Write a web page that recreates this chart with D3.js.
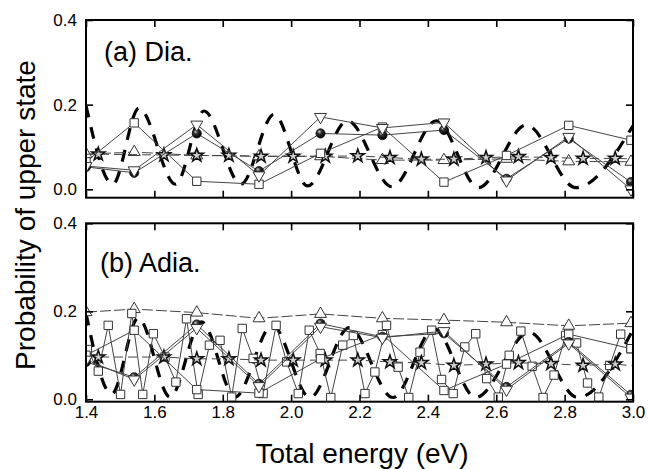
<!DOCTYPE html>
<html>
<head>
<meta charset="utf-8">
<script src="https://cdn.jsdelivr.net/npm/d3@7"></script>
<style>
  body { margin: 0; background: #fff; }
  svg { display: block; }
  text { font-family: "Liberation Sans", Arial, Helvetica, sans-serif; fill: #000; }
</style>
</head>
<body>
<svg id="chart" width="648" height="469"></svg>
<script>
// ---- energies (eV) ----
const coarseEnergy = [1.4, 1.541, 1.724, 1.906, 2.086, 2.267, 2.447, 2.63, 2.812, 2.994];
const starEnergy = [1.436, 1.628, 1.724, 1.818, 1.912, 2.006, 2.100, 2.195, 2.289, 2.381,
                    2.476, 2.570, 2.665, 2.760, 2.854, 2.948];
const fineEnergy = [1.404, 1.436, 1.465, 1.501, 1.534, 1.566, 1.597, 1.631, 1.663, 1.694,
                    1.728, 1.761, 1.792, 1.826, 1.857, 1.889, 1.918, 1.956, 1.987, 2.021,
                    2.053, 2.085, 2.116, 2.151, 2.182, 2.216, 2.245, 2.279, 2.313, 2.344,
                    2.377, 2.411, 2.440, 2.474, 2.508, 2.540, 2.572, 2.606, 2.638, 2.672,
                    2.705, 2.737, 2.769, 2.803, 2.835, 2.867, 2.900, 2.932, 2.964, 2.994];

// ---- (a) diabatic ----
const diaSquare = [0.065, 0.157, 0.019, 0.012, 0.085, 0.147, 0.017, 0.080, 0.151, 0.116];
const diaCircle = [0.053, 0.039, 0.132, 0.043, 0.132, 0.128, 0.140, 0.025, 0.120, 0.017];
const diaDown   = [0.055, 0.045, 0.153, 0.033, 0.171, 0.145, 0.158, 0.021, 0.124, 0.000];
const diaUp     = [0.083, 0.088, 0.080, 0.078, 0.078, 0.069, 0.069, 0.072, 0.066, 0.065];
const diaStar   = [0.083, 0.081, 0.080, 0.080, 0.078, 0.078, 0.078, 0.079, 0.075, 0.071,
                   0.071, 0.075, 0.077, 0.075, 0.073, 0.073];
const diaCurveE = [1.400, 1.478, 1.555, 1.662, 1.745, 1.853, 1.950, 2.048, 2.165, 2.295,
                   2.425, 2.548, 2.688, 2.833, 3.000];
const diaCurveP = [0.198, 0.012, 0.192, 0.012, 0.185, 0.012, 0.177, 0.008, 0.162, 0.006,
                   0.162, 0.004, 0.152, 0.004, 0.150];

// ---- (b) adiabatic ----
const adiaSquare = [0.100, 0.157, 0.022, 0.014, 0.092, 0.147, 0.020, 0.080, 0.148, 0.115];
const adiaFine = [0.113, 0.064, 0.168, 0.011, 0.195, 0.011, 0.149, 0.096, 0.039, 0.183,
                  0.011, 0.123, 0.134, 0.005, 0.161, 0.093, 0.013, 0.168, 0.085, 0.013,
                  0.157, 0.104, 0.004, 0.123, 0.145, 0.013, 0.062, 0.168, 0.073, 0.004,
                  0.107, 0.157, 0.045, 0.013, 0.119, 0.149, 0.047, 0.005, 0.100, 0.155,
                  0.075, 0.004, 0.055, 0.145, 0.128, 0.037, 0.005, 0.077, 0.148, 0.115];
const adiaCircle = [0.085, 0.050, 0.170, 0.035, 0.172, 0.142, 0.150, 0.028, 0.130, 0.010];
const adiaDown   = [0.090, 0.045, 0.162, 0.030, 0.165, 0.140, 0.155, 0.022, 0.127, 0.004];
const adiaUp     = [0.198, 0.205, 0.197, 0.184, 0.194, 0.184, 0.180, 0.175, 0.167, 0.173];
const adiaStar   = [0.096, 0.096, 0.092, 0.092, 0.089, 0.089, 0.089, 0.089, 0.085, 0.083,
                    0.077, 0.080, 0.083, 0.081, 0.077, 0.080];
const adiaCurveE = [1.400, 1.475, 1.553, 1.646, 1.738, 1.836, 1.945, 2.055, 2.170, 2.298,
                    2.418, 2.540, 2.697, 2.838, 3.000];
const adiaCurveP = [0.195, 0.012, 0.185, 0.005, 0.176, 0.005, 0.168, 0.004, 0.163, 0.004,
                    0.160, 0.004, 0.152, 0.004, 0.158];

const xTicks = [1.4, 1.6, 1.8, 2.0, 2.2, 2.4, 2.6, 2.8, 3.0];
const yTicks = [0.0, 0.2, 0.4];

const svg = d3.select("#chart");
const x = d3.scaleLinear().domain([1.4, 3.0]).range([86, 633]);
const fmt = d3.format(".1f");

// shaded ball used for the circle markers
const defs = svg.append("defs");
const grad = defs.append("radialGradient").attr("id", "ball")
  .attr("cx", "38%").attr("cy", "32%").attr("r", "65%");
grad.append("stop").attr("offset", "0%").attr("stop-color", "#d8d8d8");
grad.append("stop").attr("offset", "35%").attr("stop-color", "#333");
grad.append("stop").attr("offset", "100%").attr("stop-color", "#000");

const panels = [
  {
    id: "dia", top: 20, bottom: 197.7, domain: [-0.0198, 0.4], label: "(a) Dia.",
    labelX: 104, labelY: 61, xLabels: false,
    curve: [diaCurveE, diaCurveP],
    series: [
      { e: coarseEnergy, v: diaUp, mark: "up", dash: "11,3" },
      { e: starEnergy, v: diaStar, mark: "star", dash: "9,5", start: 0.083, end: 0.072 },
      { e: coarseEnergy, v: diaSquare, mark: "square" },
      { e: coarseEnergy, v: diaCircle, mark: "circle" },
      { e: coarseEnergy, v: diaDown, mark: "down" }
    ]
  },
  {
    id: "adia", top: 223.3, bottom: 401.7, domain: [-0.0055, 0.4], label: "(b) Adia.",
    labelX: 100, labelY: 272, xLabels: true,
    curve: [adiaCurveE, adiaCurveP],
    series: [
      { e: coarseEnergy, v: adiaUp, mark: "up", dash: "11,3" },
      { e: fineEnergy, v: adiaFine, mark: "square" },
      { e: starEnergy, v: adiaStar, mark: "star", dash: "9,5", start: 0.096, end: 0.076 },
      { e: coarseEnergy, v: adiaSquare, mark: "square" },
      { e: coarseEnergy, v: adiaCircle, mark: "circle" },
      { e: coarseEnergy, v: adiaDown, mark: "down" }
    ]
  }
];

const symbols = {
  square: d3.symbol().type(d3.symbolSquare).size(70)(),
  up: d3.symbol().type(d3.symbolTriangle).size(62)(),
  down: d3.symbol().type(d3.symbolTriangle).size(62)(),
  star: d3.symbol().type(d3.symbolStar).size(55)()
};

panels.forEach(p => {
  const y = d3.scaleLinear().domain(p.domain).range([p.bottom, p.top]);
  const g = svg.append("g").attr("class", "panel-" + p.id);

  g.append("clipPath").attr("id", "clip-" + p.id)
    .append("rect").attr("x", x.range()[0]).attr("y", p.top)
    .attr("width", x.range()[1] - x.range()[0]).attr("height", p.bottom - p.top);

  const plot = g.append("g").attr("clip-path", `url(#clip-${p.id})`);
  const line = d3.line().x(d => x(d[0])).y(d => y(d[1]));

  // oscillating reference curve (thick dashes)
  plot.append("path")
    .datum(d3.zip(p.curve[0], p.curve[1]))
    .attr("d", line.curve(d3.curveMonotoneX))
    .attr("fill", "none").attr("stroke", "#000")
    .attr("stroke-width", 3.2).attr("stroke-dasharray", "12,10");
  line.curve(d3.curveLinear);

  p.series.forEach(s => {
    let pts = d3.zip(s.e, s.v);
    let linePts = pts;
    if (s.start !== undefined) linePts = [[1.4, s.start], ...pts, [3.0, s.end]];
    plot.append("path").datum(linePts)
      .attr("d", line)
      .attr("fill", "none").attr("stroke", "#444").attr("stroke-width", 1)
      .attr("stroke-dasharray", s.dash || null);

    const marks = plot.append("g").selectAll("g").data(pts).join("g")
      .attr("transform", d => `translate(${x(d[0])},${y(d[1])})`);
    if (s.mark === "circle") {
      marks.append("circle").attr("r", 4.6)
        .attr("fill", "url(#ball)").attr("stroke", "#111").attr("stroke-width", 0.8);
    } else if (s.mark === "star") {
      marks.append("path").attr("d", symbols.star)
        .attr("fill", "#ccc").attr("stroke", "#111").attr("stroke-width", 1.5);
    } else {
      marks.append("path").attr("d", symbols[s.mark])
        .attr("transform", s.mark === "down" ? "rotate(180)" : null)
        .attr("fill", "#fff").attr("stroke", "#333").attr("stroke-width", 1);
    }
  });

  // axes with inward ticks
  const bottomAxis = d3.axisBottom(x).tickValues(xTicks).tickSize(-7).tickPadding(4)
    .tickFormat(p.xLabels ? fmt : "");
  const topAxis = d3.axisTop(x).tickValues(xTicks).tickSize(-7).tickFormat("");
  const leftAxis = d3.axisLeft(y).tickValues(yTicks).tickSize(-7).tickPadding(9).tickFormat(fmt);
  const rightAxis = d3.axisRight(y).tickValues(yTicks).tickSize(-7).tickFormat("");

  const axes = [
    g.append("g").attr("transform", `translate(0,${p.bottom})`).call(bottomAxis),
    g.append("g").attr("transform", `translate(0,${p.top})`).call(topAxis),
    g.append("g").attr("transform", `translate(${x.range()[0]},0)`).call(leftAxis),
    g.append("g").attr("transform", `translate(${x.range()[1]},0)`).call(rightAxis)
  ];
  axes.forEach(a => {
    a.select(".domain").remove();
    a.selectAll(".tick line").attr("stroke", "#000").attr("stroke-width", 1.6);
    a.selectAll(".tick text").attr("font-size", 17).attr("fill", "#000")
      .attr("font-family", '"Liberation Sans", Arial, sans-serif');
  });

  // frame
  g.append("rect").attr("x", x.range()[0]).attr("y", p.top)
    .attr("width", x.range()[1] - x.range()[0]).attr("height", p.bottom - p.top)
    .attr("fill", "none").attr("stroke", "#000").attr("stroke-width", 2);

  g.append("text").attr("x", p.labelX).attr("y", p.labelY)
    .attr("font-size", 27).text(p.label);
});

svg.append("text").attr("x", 362).attr("y", 463).attr("text-anchor", "middle")
  .attr("font-size", 28).text("Total energy (eV)");

svg.append("text").attr("transform", "translate(35,215) rotate(-90)")
  .attr("text-anchor", "middle").attr("font-size", 28).text("Probability of upper state");
</script>
</body>
</html>
